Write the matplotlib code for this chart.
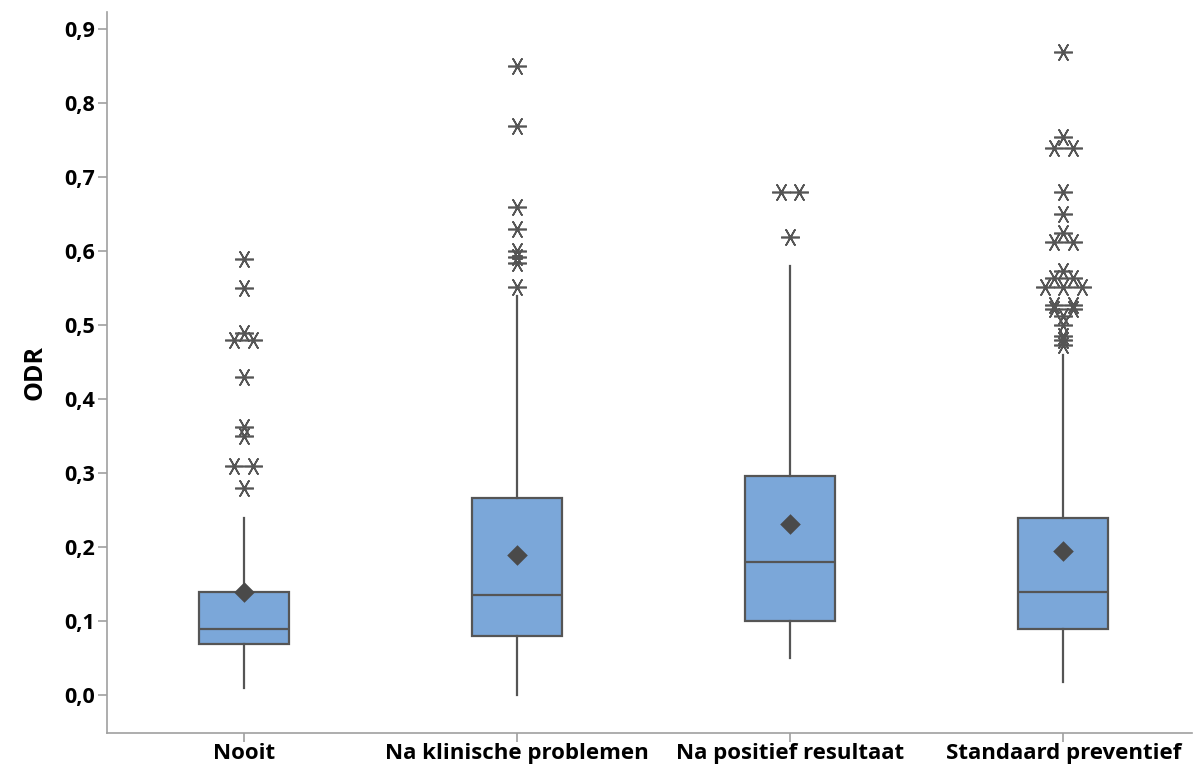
import matplotlib
matplotlib.use("Agg")
import matplotlib.pyplot as plt
import numpy as np
from collections import Counter

categories = ["Nooit", "Na klinische problemen", "Na positief resultaat", "Standaard preventief"]
whisker_low = [0.01, 0.0, 0.05, 0.018]
q1 = [0.069, 0.080, 0.101, 0.089]
median = [0.089, 0.135, 0.180, 0.139]
q3 = [0.139, 0.267, 0.296, 0.240]
whisker_high = [0.24, 0.54, 0.58, 0.46]
means = [0.14, 0.19, 0.231, 0.195]
outliers = [
    [0.59, 0.55, 0.49, 0.48, 0.48, 0.43, 0.362, 0.351, 0.31, 0.31, 0.28],
    [0.85, 0.77, 0.66, 0.63, 0.60, 0.592, 0.585, 0.552],
    [0.68, 0.68, 0.62],
    [0.87, 0.754, 0.74, 0.74, 0.68, 0.65, 0.625, 0.613, 0.613, 0.574, 0.564, 0.564,
     0.552, 0.552, 0.552, 0.527, 0.527, 0.522, 0.522, 0.513, 0.50, 0.486, 0.48, 0.473],
]
yticks = [0.0, 0.1, 0.2, 0.3, 0.4, 0.5, 0.6, 0.7, 0.8, 0.9]
ytick_labels = ["0,0", "0,1", "0,2", "0,3", "0,4", "0,5", "0,6", "0,7", "0,8", "0,9"]

plt.rcParams['font.family'] = ['Open Sans', 'DejaVu Sans']

fig = plt.figure(figsize=(11.96, 7.69), dpi=100)
ax = fig.add_axes([0.0895, 0.0468, 0.907, 0.937])

edge = "#555555"
stats = []
for i in range(len(categories)):
    stats.append(dict(med=median[i], q1=q1[i], q3=q3[i], whislo=whisker_low[i],
                      whishi=whisker_high[i], fliers=[], label=categories[i]))
pos = np.arange(len(categories))
ax.bxp(stats, positions=pos, widths=0.33, patch_artist=True, showfliers=False,
       showcaps=False,
       boxprops=dict(facecolor="#7BA7D9", edgecolor=edge, linewidth=1.6),
       medianprops=dict(color=edge, linewidth=1.6),
       whiskerprops=dict(color=edge, linewidth=1.6), zorder=2)

ax.scatter(pos, means, marker="D", s=110, color="#4a4a4a", zorder=4, linewidths=0)

step = 0.068
for i, vals in enumerate(outliers):
    counts = Counter(vals)
    seen = Counter()
    for v in vals:
        n = counts[v]
        k = seen[v]
        seen[v] += 1
        off = (k - (n - 1) / 2) * step
        ax.plot(pos[i] + off, v, marker=(6, 2, 90), markersize=13.5, color=edge,
                markeredgewidth=1.2, linestyle="none", zorder=5)

ax.set_xlim(-0.5, 3.47)
ax.set_ylim(-0.051, 0.923)
ax.set_yticks(yticks)
ax.set_yticklabels(ytick_labels, fontsize=15.5, fontweight="bold")
ax.set_xticks(pos)
ax.set_xticklabels(categories, fontsize=16, fontweight="bold")
ax.set_ylabel("ODR", fontsize=18, fontweight="bold", labelpad=12)

for s in ["top", "right"]:
    ax.spines[s].set_visible(False)
for s in ["left", "bottom"]:
    ax.spines[s].set_color("#a0a0a0")
    ax.spines[s].set_linewidth(1.2)
ax.tick_params(axis="both", color="#a0a0a0", length=6.5, width=1.2)
ax.tick_params(axis="y", pad=2)
ax.tick_params(axis="x", pad=1)

fig.savefig("out.png", dpi=100)
